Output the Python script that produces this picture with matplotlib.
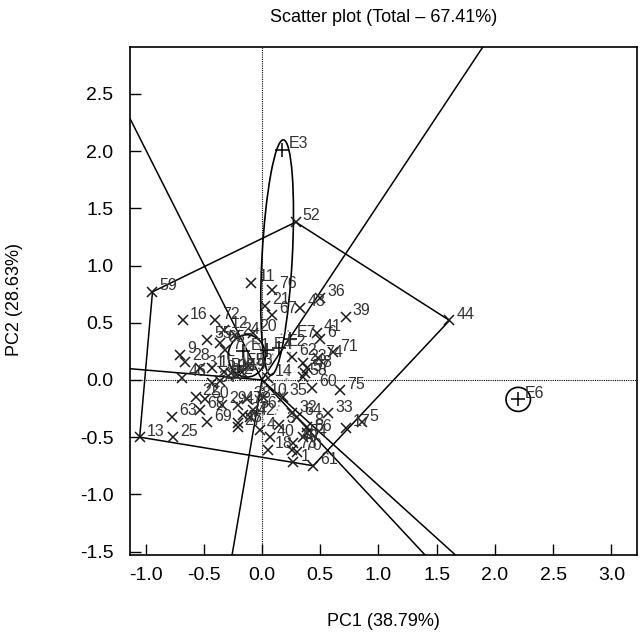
import numpy as np
import matplotlib.pyplot as plt
from matplotlib.patches import Ellipse

plt.rcParams['font.family'] = ['Liberation Sans', 'DejaVu Sans']
plt.rcParams['axes.unicode_minus'] = False

# genotype scores
geno_labels = ['59', '52', '44', '61', '13', '17', '5', '33', '75', '71',
               '39', '36', '43', '41', '6', '74', '62', '23', '48', '57',
               '58', '60', '35', '14', '10', '38', '47', '29', '50', '22',
               '68', '63', '25', '69', '46', '9', '28', '31', '15', '51',
               '26', '2', '19', '53', '16', '72', '12', '24', '55', '65',
               '7', '20', '21', '67', '11', '76', '3', '40', '64', '32',
               '8', '70', '4', '18', '54', '66', '49', '73', '1', '30',
               '34', '37', '42', '45', '56', '27']
geno_pc1 = [-0.94, 0.29, 1.61, 0.44, -1.05, 0.72, 0.86, 0.57, 0.67, 0.61,
            0.72, 0.50, 0.33, 0.47, 0.50, 0.48, 0.26, 0.35, 0.39, 0.37,
            0.35, 0.43, 0.18, 0.05, 0.01, -0.13, -0.21, -0.34, -0.49, -0.57,
            -0.53, -0.77, -0.76, -0.47, -0.69, -0.70, -0.66, -0.53, -0.43, -0.33,
            -0.27, -0.22, -0.17, -0.12, -0.68, -0.40, -0.33, -0.23, -0.47, -0.36,
            -0.32, -0.08, 0.03, 0.09, -0.09, 0.09, 0.15, 0.07, 0.30, 0.26,
            0.39, 0.30, -0.02, 0.05, 0.35, 0.39, 0.27, 0.26, 0.27, -0.36,
            -0.43, -0.16, -0.10, -0.21, -0.08, -0.21]
geno_pc2 = [0.77, 1.38, 0.52, -0.75, -0.50, -0.42, -0.37, -0.29, -0.09, 0.24,
            0.55, 0.72, 0.63, 0.41, 0.36, 0.19, 0.20, 0.15, 0.10, 0.06,
            0.03, -0.07, -0.15, 0.02, -0.15, -0.17, -0.22, -0.22, -0.17, -0.15,
            -0.26, -0.32, -0.50, -0.37, 0.02, 0.22, 0.16, 0.10, 0.10, 0.07,
            0.06, 0.04, 0.07, 0.12, 0.52, 0.52, 0.44, 0.39, 0.35, 0.32,
            0.26, 0.41, 0.65, 0.57, 0.85, 0.79, -0.39, -0.50, -0.32, -0.29,
            -0.41, -0.63, -0.44, -0.61, -0.50, -0.46, -0.55, -0.61, -0.72, -0.01,
            -0.03, -0.31, -0.32, -0.38, -0.26, -0.41]

# environment scores
env_labels = ['E1', 'E2', 'E3', 'E4', 'E5', 'E6', 'E7']
env_pc1 = [-0.16, 0.15, 0.17, 0.04, -0.20, 2.20, 0.24]
env_pc2 = [0.25, 0.28, 2.01, 0.26, 0.12, -0.17, 0.36]

# genotypes on the polygon (in drawing order)
hull = ['59', '52', '44', '61', '13']

# confidence regions: centre, length, width, angle, colour, style
ell_x = [0.13, -0.13, -0.08, 0.125, 2.20]
ell_y = [1.07, 0.21, 0.23, 0.02, -0.17]
ell_len = [2.06, 0.32, 0.15, 0.85, 0.21]
ell_wid = [0.26, 0.37, 0.22, 0.17, 0.21]
ell_ang = [87, 0, 0, 78, 0]
ell_col = ['black', 'black', '0.55', '0.55', 'black']
ell_ls = ['-', '-', '-', ':', '-']

# second sector boundary towards lower right
extra_ray = [1.40, -1.53]

fig = plt.figure(figsize=(6.43, 6.39), dpi=100)
ax = fig.add_axes([0.2022, 0.1315, 0.7885, 0.7949])

pos = {l: (x, y) for l, x, y in zip(geno_labels, geno_pc1, geno_pc2)}
px = [pos[l][0] for l in hull] + [pos[hull[0]][0]]
py = [pos[l][1] for l in hull] + [pos[hull[0]][1]]
ax.plot(px, py, color='black', lw=1.1, zorder=2)

# rays perpendicular to polygon sides
for i in range(len(hull)):
    ax_, ay_ = pos[hull[i]]
    bx_, by_ = pos[hull[(i + 1) % len(hull)]]
    n = np.array([-(by_ - ay_), bx_ - ax_])
    if n @ np.array([ax_, ay_]) < 0:
        n = -n
    n = n / np.linalg.norm(n) * 10
    ax.plot([0, n[0]], [0, n[1]], color='black', lw=1.1, zorder=2)
ax.plot([0, extra_ray[0]], [0, extra_ray[1]], color='black', lw=1.1, zorder=2)

for x, y, w, h, a, c, s in zip(ell_x, ell_y, ell_len, ell_wid, ell_ang, ell_col, ell_ls):
    ax.add_patch(Ellipse((x, y), w, h, angle=a, fill=False, edgecolor=c,
                         linestyle=s, lw=1.2, zorder=3))

ax.axhline(0, color='black', lw=0.8, ls=(0, (1, 1)), zorder=1)
ax.axvline(0, color='black', lw=0.8, ls=(0, (1, 1)), zorder=1)

ax.plot(geno_pc1, geno_pc2, ls='none', marker='x', ms=7, mew=1.1,
        color='0.1', zorder=4)
for l, x, y in zip(geno_labels, geno_pc1, geno_pc2):
    ax.annotate(l, (x, y), xytext=(5, -1), textcoords='offset points',
                fontsize=11.5, color='0.2', ha='left', va='bottom', zorder=5)

ax.plot(env_pc1, env_pc2, ls='none', marker='+', ms=10, mew=1.1,
        color='black', zorder=4)
for l, x, y in zip(env_labels, env_pc1, env_pc2):
    ax.annotate(l, (x, y), xytext=(5, -1), textcoords='offset points',
                fontsize=11.5, color='0.2', ha='left', va='bottom', zorder=5)

ax.set_xlim(-1.133, 3.22)
ax.set_ylim(-1.53, 2.91)
xt = np.arange(-1.0, 3.01, 0.5)
yt = np.arange(-1.5, 2.51, 0.5)
ax.set_xticks(xt)
ax.set_yticks(yt)
ax.set_xticklabels(['%.1f' % v for v in xt])
ax.set_yticklabels(['%.1f' % v for v in yt])
ax.tick_params(direction='in', length=8, width=1.0, labelsize=14,
               top=False, right=False)
ax.tick_params(axis='x', pad=9)
ax.tick_params(axis='y', pad=12)
for sp in ax.spines.values():
    sp.set_linewidth(1.2)

fig.text(383.5 / 643, 1 - 18 / 639, 'Scatter plot (Total \u2013 67.41%)',
         ha='center', va='center', fontsize=13)
fig.text(383.5 / 643, 1 - 622 / 639, 'PC1 (38.79%)', ha='center',
         va='center', fontsize=13)
fig.text(15 / 643, 1 - 300 / 639, 'PC2 (28.63%)', ha='center',
         va='center', rotation=90, fontsize=13)

fig.savefig('out.png', dpi=100)
